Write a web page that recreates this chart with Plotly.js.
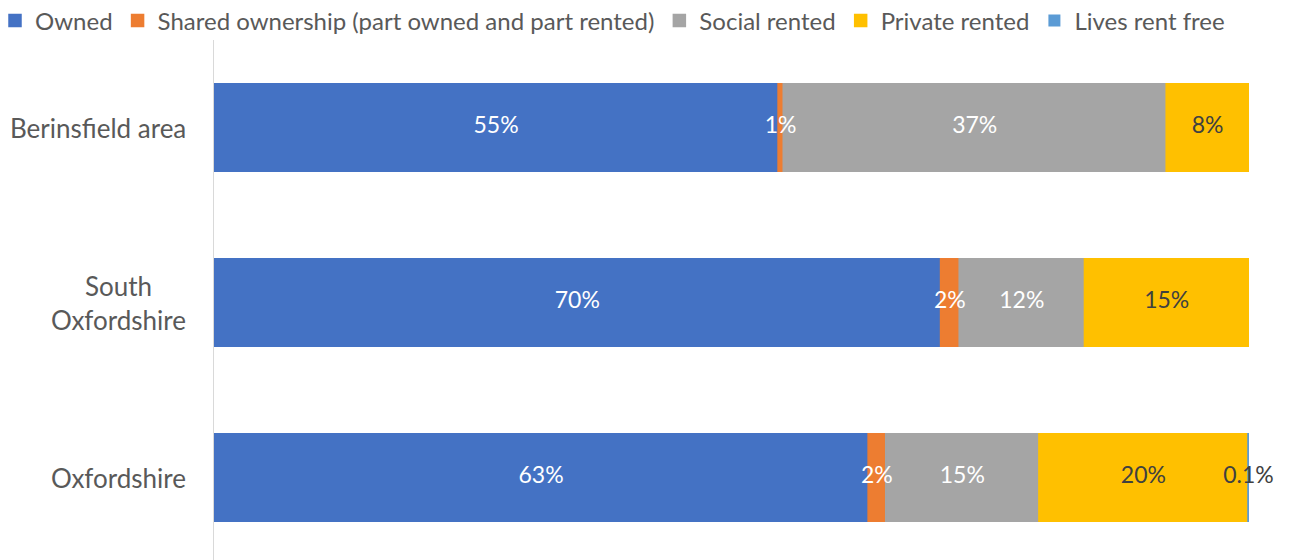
<!DOCTYPE html>
<html>
<head>
<meta charset="utf-8">
<script src="https://cdn.plot.ly/plotly-3.0.1.min.js"></script>
<style>html,body{margin:0;padding:0;background:#fff;}#chart{width:1289px;height:560px;}</style>
</head>
<body>
<div id="chart"></div>
<script>
// Categories (top to bottom as shown)
var categories = ['Berinsfield area', 'South Oxfordshire', 'Oxfordshire'];
var categoryLabels = ['Berinsfield area', 'South<br>Oxfordshire', 'Oxfordshire'];
var seriesNames = ['Owned', 'Shared ownership (part owned and part rented)', 'Social rented', 'Private rented', 'Lives rent free'];

// Values (% of households)
var owned      = [54.5, 70.2, 63.2];
var shared     = [0.5, 1.8, 1.7];
var social     = [37.0, 12.1, 14.8];
var privateR   = [8.0, 15.9, 20.2];
var rentFree   = [0, 0, 0.1];

// Data labels as printed on the chart
var ownedLabels    = ['55%', '70%', '63%'];
var sharedLabels   = ['1%', '2%', '2%'];
var socialLabels   = ['37%', '12%', '15%'];
var privateLabels  = ['8%', '15%', '20%'];
var rentFreeLabels = ['', '', '0.1%'];

var colors = ['#4472C4', '#ED7D31', '#A5A5A5', '#FFC000', '#5B9BD5'];
var labelColors = ['#FFFFFF', '#FFFFFF', '#FFFFFF', '#404040', '#404040'];
var series = [owned, shared, social, privateR, rentFree];
var labels = [ownedLabels, sharedLabels, socialLabels, privateLabels, rentFreeLabels];

var FONT = 'Lato, "Open Sans", sans-serif';
var traces = [];
var base = categories.map(function(){ return 0; });
var textTraces = [];
series.forEach(function(vals, i) {
  traces.push({
    type: 'bar', orientation: 'h', name: seriesNames[i],
    y: categories, x: vals, base: base.slice(),
    width: 0.5,
    marker: {color: colors[i], line: {color: colors[i], width: vals.map(function(v){ return v > 0 ? 1.5 : 0; })}},
    hoverinfo: 'name+x'
  });
  textTraces.push({
    type: 'scatter', mode: 'text', showlegend: false, hoverinfo: 'skip',
    y: categories,
    x: vals.map(function(v, k){ return base[k] + v / 2; }),
    text: labels[i],
    textposition: 'middle center',
    textfont: {family: FONT, size: 23, color: labelColors[i]},
    cliponaxis: false
  });
  base = base.map(function(b, k){ return b + vals[k]; });
});

var annotations = categories.map(function(c, k) {
  return {
    xref: 'paper', yref: 'y', x: 0, y: c, xshift: -26,
    xanchor: 'right', yanchor: 'middle', align: 'center',
    text: categoryLabels[k], showarrow: false,
    font: {family: FONT, size: 26, color: '#595959'}
  };
});

var layout = {
  width: 1289, height: 560,
  margin: {l: 214, r: 40, t: 40, b: 0, pad: 0, autoexpand: false},
  paper_bgcolor: '#FFFFFF', plot_bgcolor: '#FFFFFF',
  barmode: 'overlay',
  showlegend: true,
  legend: {
    orientation: 'h', xref: 'paper', yref: 'paper',
    x: -219 / 1035, y: 1 + 19 / 520, xanchor: 'left', yanchor: 'middle',
    font: {family: FONT, size: 24, color: '#595959'},
    itemwidth: 30, traceorder: 'normal', bgcolor: 'rgba(0,0,0,0)'
  },
  xaxis: {range: [0, 100], showgrid: false, zeroline: false, showticklabels: false, showline: false, fixedrange: true},
  yaxis: {
    type: 'category', categoryorder: 'array', categoryarray: categories.slice().reverse(),
    range: [-0.471, 2.5], showticklabels: false, showgrid: false, zeroline: false,
    showline: true, linecolor: '#D9D9D9', linewidth: 1.5, ticks: '', fixedrange: true
  },
  annotations: annotations,
  font: {family: FONT}
};

Plotly.newPlot('chart', traces.concat(textTraces), layout, {displayModeBar: false, staticPlot: true});
</script>
</body>
</html>
